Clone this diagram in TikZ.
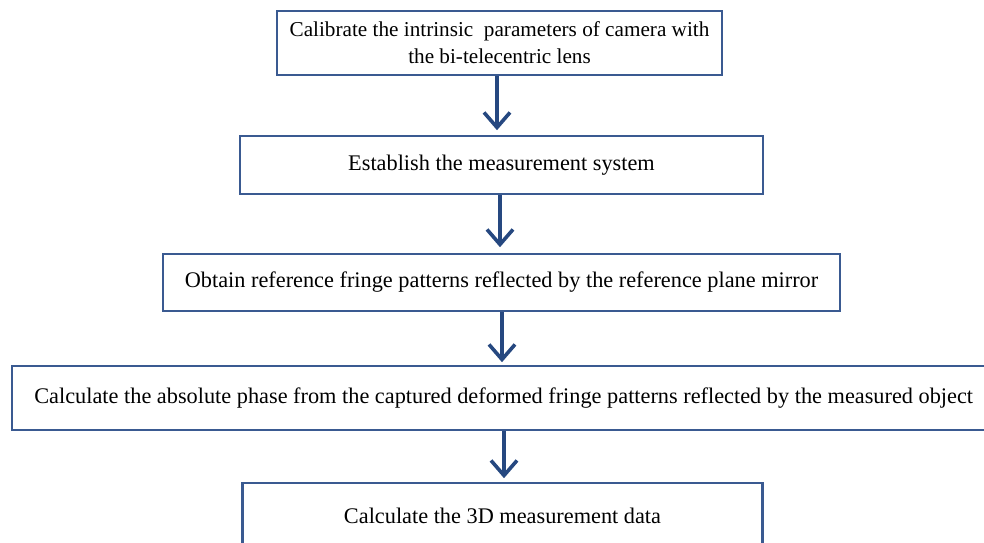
\documentclass[tikz,border=0pt]{standalone}
\usepackage{fontspec}
\setmainfont{Liberation Serif}
\usetikzlibrary{arrows.meta}
\definecolor{frameblue}{RGB}{58,90,145}
\definecolor{arrowblue}{RGB}{38,72,128}
\tikzset{
  stepbox/.style={draw=frameblue, line width=2.4pt, fill=white, inner sep=0pt,
    align=center, font=\fontsize{22.3}{27}\selectfont},
  flow/.style={draw=arrowblue, line width=3.6pt,
    -{Straight Barb[length=15pt, width=26pt, line width=3.6pt]}}
}
\begin{document}
\begin{tikzpicture}[x=1pt, y=-1pt]
\useasboundingbox (0,0) rectangle (984,542);
\clip (0,0) rectangle (984,542);
% process steps (coordinates in pixels, y downwards)
\node[stepbox, minimum width=445pt, minimum height=64pt,
  font=\fontsize{21.2}{27}\selectfont] (s1) at (499.5,43)
  {Calibrate the intrinsic\ \ parameters of camera with\\the bi-telecentric lens};
\node[stepbox, minimum width=523pt, minimum height=58pt] (s2) at (501.5,165)
  {Establish the measurement system};
\node[stepbox, minimum width=677pt, minimum height=57pt] (s3) at (501.5,282.5)
  {Obtain reference fringe patterns reflected by the reference plane mirror};
\node[stepbox, minimum width=983pt, minimum height=64pt, anchor=west] (s4) at (11,398)
  {Calculate the absolute phase from the captured deformed fringe patterns reflected by the measured object};
\node[stepbox, minimum width=520pt, minimum height=66pt, anchor=north] (s5) at (502.5,482)
  {Calculate the 3D measurement data};
% connectors
\draw[flow] (s1.south -| 497,0) -- ++(0,54);
\draw[flow] (s2.south -| 500,0) -- ++(0,52);
\draw[flow] (s3.south -| 502,0) -- ++(0,50);
\draw[flow] (s4.south -| 504,0) -- ++(0,47);
\end{tikzpicture}
\end{document}
